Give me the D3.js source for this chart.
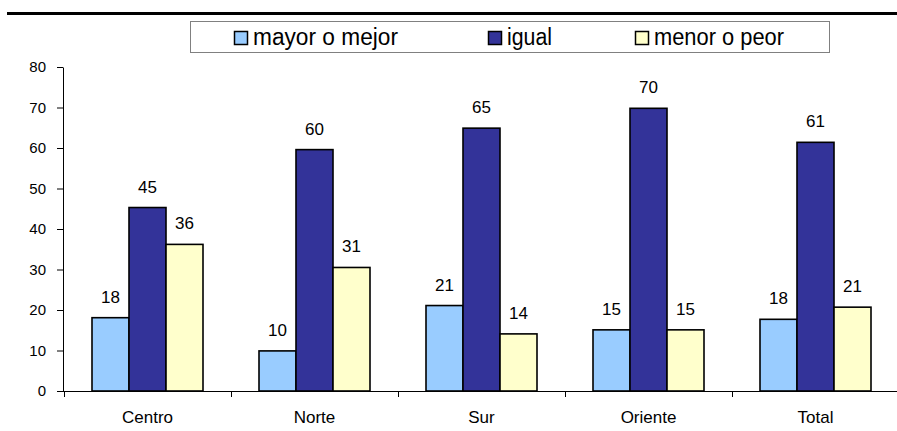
<!DOCTYPE html>
<html>
<head>
<meta charset="utf-8">
<script src="https://cdn.jsdelivr.net/npm/d3@7"></script>
<style>
  body { margin: 0; background: #fff; }
  text { font-family: 'Liberation Sans', Arial, Helvetica, sans-serif; }
</style>
</head>
<body>
<script>
// Data
const categories = ["Centro", "Norte", "Sur", "Oriente", "Total"];
const seriesNames = ["mayor o mejor", "igual", "menor o peor"];
const mayorValues = [18.1, 9.9, 21.1, 15.1, 17.7];
const igualValues = [45.3, 59.6, 64.9, 69.8, 61.4];
const menorValues = [36.2, 30.5, 14.1, 15.1, 20.7];
const yTicks = [0, 10, 20, 30, 40, 50, 60, 70, 80];
const colors = ["#99ccff", "#333399", "#ffffcc"];

const FONT = "'Liberation Sans', Arial, Helvetica, sans-serif";

// Canvas setup
const canvasWidth = 897;
const canvasHeight = 431;

const svg = d3.select('body')
    .append('svg')
    .attr('width', canvasWidth)
    .attr('height', canvasHeight)
    .attr('font-family', FONT)
    .style('display', 'block');

const margins = { top: 67, bottom: 40, left: 63, right: 0 };
const baseY = canvasHeight - margins.bottom;

// top rule
svg.append('rect')
    .attr('x', 7).attr('y', 12)
    .attr('width', canvasWidth - 7).attr('height', 3)
    .attr('fill', '#000');

// Scales
let xScale = d3.scaleBand()
    .domain(categories)
    .range([margins.left + 1, canvasWidth + 2]);

let inner = d3.scaleBand()
    .domain(seriesNames)
    .range([28, xScale.bandwidth() - 28]);

let yScale = d3.scaleLinear()
    .domain([0, 80])
    .range([baseY, margins.top]);

// y axis
let yAxis = svg.append('g')
    .attr('transform', `translate(${margins.left},0)`)
    .call(d3.axisLeft(yScale).tickValues(yTicks).tickSize(6).tickSizeOuter(0).tickPadding(11));
yAxis.attr('font-family', FONT).attr('font-size', 15);
yAxis.select('.domain').attr('stroke', '#000');
yAxis.selectAll('.tick line').attr('stroke', '#000');
yAxis.selectAll('.tick text').attr('fill', '#000');

// x axis line + ticks between categories
svg.append('line')
    .attr('x1', margins.left).attr('x2', canvasWidth)
    .attr('y1', baseY + 0.5).attr('y2', baseY + 0.5)
    .attr('stroke', '#000');

let boundaries = categories.map(c => xScale(c)).concat([xScale(categories[categories.length - 1]) + xScale.step()]);
svg.selectAll('.xtick')
    .data(boundaries)
    .enter().append('line')
    .attr('x1', d => Math.round(d) + 0.5).attr('x2', d => Math.round(d) + 0.5)
    .attr('y1', baseY).attr('y2', baseY + 6)
    .attr('stroke', '#000');

svg.selectAll('.catlabel')
    .data(categories)
    .enter().append('text')
    .attr('x', d => xScale(d) + xScale.bandwidth() / 2)
    .attr('y', baseY + 32)
    .attr('text-anchor', 'middle')
    .attr('font-size', 17)
    .text(d => d);

// Bars
const allValues = [mayorValues, igualValues, menorValues];
let barData = [];
categories.forEach((c, i) => {
    seriesNames.forEach((s, j) => {
        barData.push({ cat: c, series: s, value: allValues[j][i], color: colors[j] });
    });
});

let groups = svg.append('g').classed('bars', true);
groups.selectAll('rect')
    .data(barData)
    .enter().append('rect')
    .attr('x', d => xScale(d.cat) + inner(d.series))
    .attr('y', d => yScale(d.value))
    .attr('width', inner.bandwidth())
    .attr('height', d => baseY - yScale(d.value))
    .attr('fill', d => d.color)
    .attr('stroke', '#000')
    .attr('stroke-width', 1.6);

groups.selectAll('text')
    .data(barData)
    .enter().append('text')
    .attr('x', d => xScale(d.cat) + inner(d.series) + inner.bandwidth() / 2)
    .attr('y', d => yScale(d.value) - 15)
    .attr('text-anchor', 'middle')
    .attr('font-size', 17)
    .text(d => Math.round(d.value));

// Legend
let legend = svg.append('g').classed('legend', true);
legend.append('rect')
    .attr('x', 190.5).attr('y', 21.5)
    .attr('width', 639).attr('height', 31)
    .attr('fill', '#fff')
    .attr('stroke', '#808080');

const legendX = [234, 488, 635];
const legendW = [145, 45, 130];
seriesNames.forEach((s, j) => {
    legend.append('rect')
        .attr('x', legendX[j] + 0.5).attr('y', 31.5)
        .attr('width', 13).attr('height', 13)
        .attr('fill', colors[j])
        .attr('stroke', '#000')
        .attr('stroke-width', 1.5);
    legend.append('text')
        .attr('x', legendX[j] + 19)
        .attr('y', 45)
        .attr('font-size', 23)
        .attr('textLength', legendW[j])
        .attr('lengthAdjust', 'spacingAndGlyphs')
        .text(s);
});
</script>
</body>
</html>
